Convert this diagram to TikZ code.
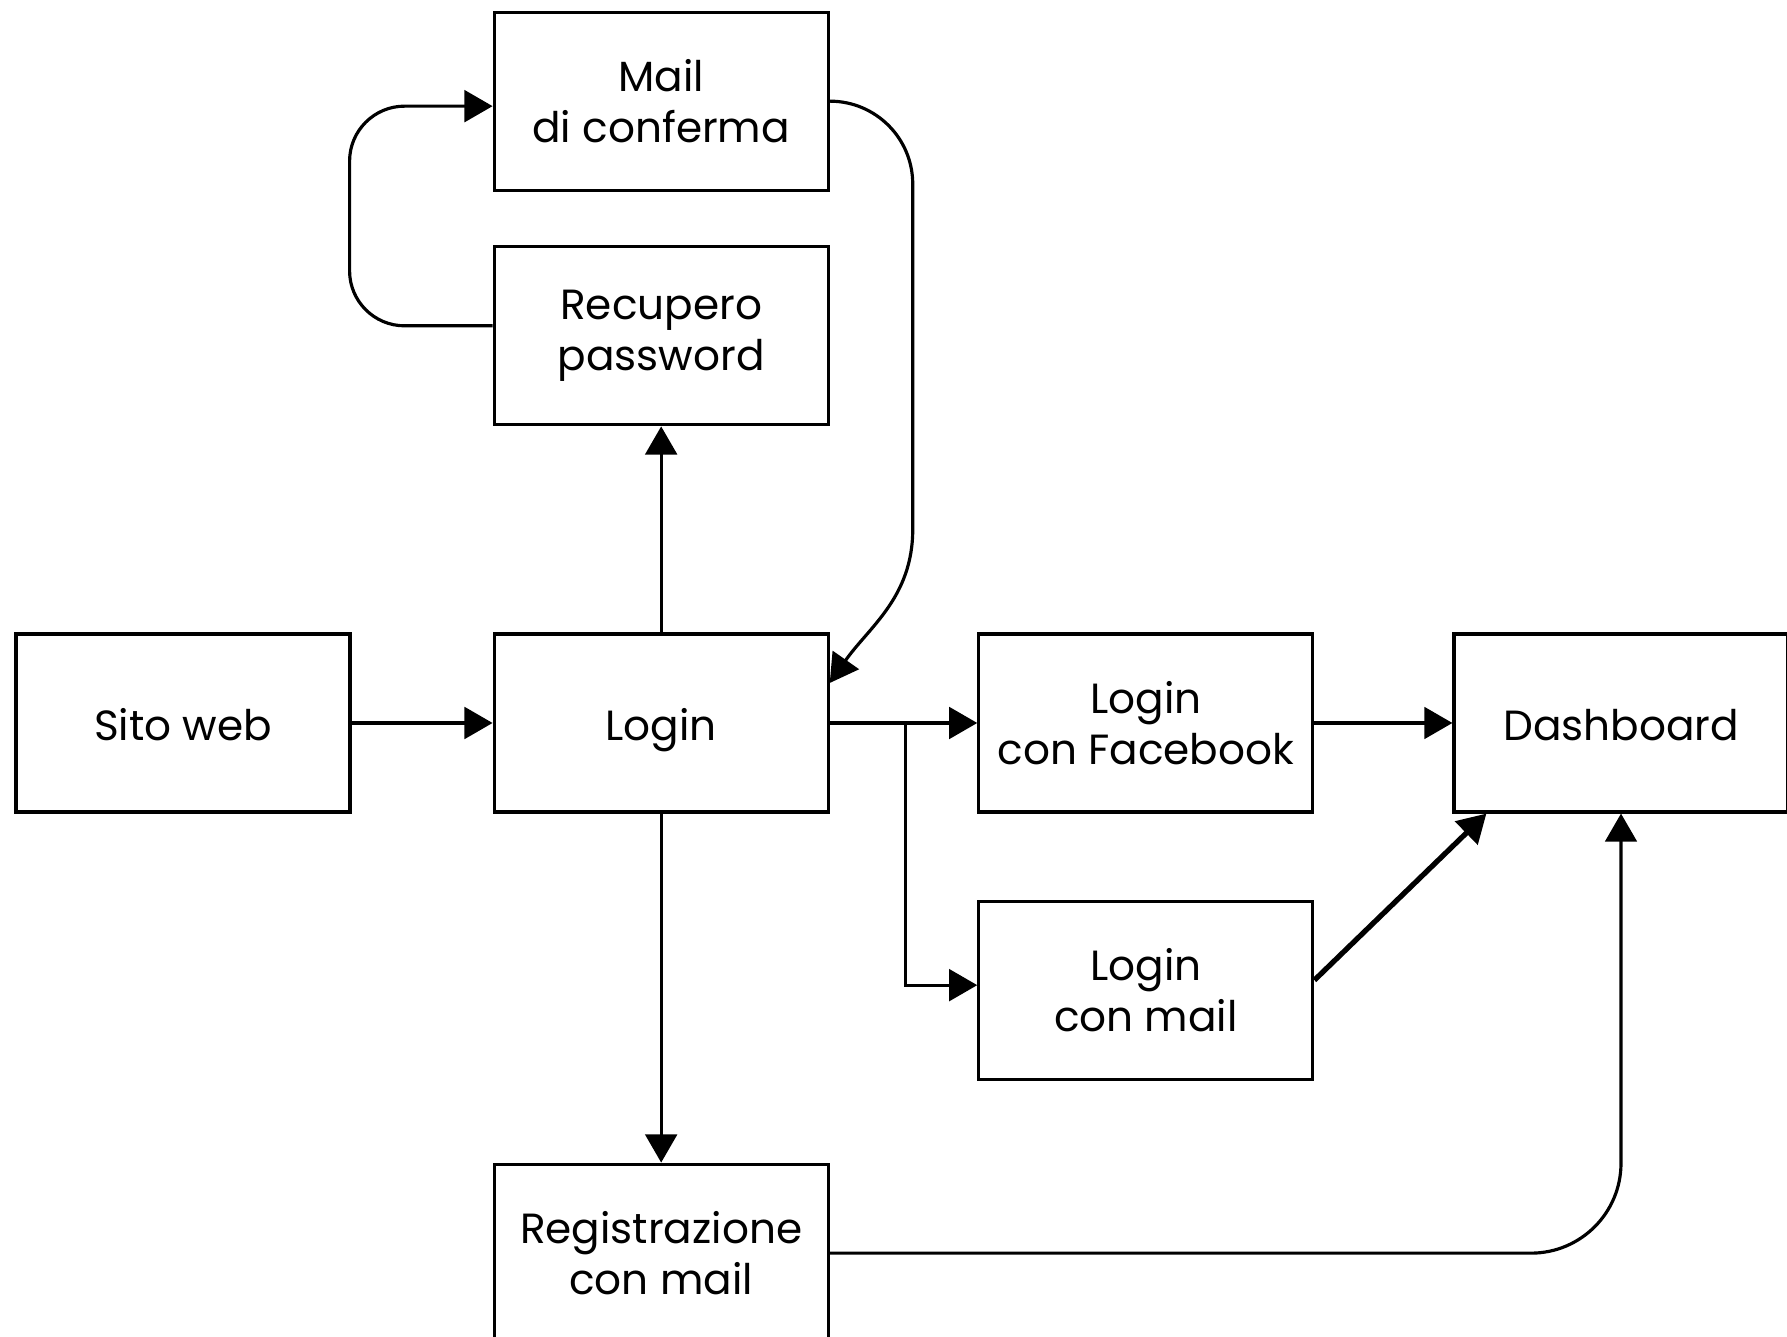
\documentclass[tikz,border=0pt]{standalone}
\usepackage{fontspec}
\setmainfont{Poppins}
\usetikzlibrary{positioning, arrows.meta, calc}

\begin{document}
\begin{tikzpicture}[
		main/.style = {draw, line width=0.9pt, minimum width=3.34cm, minimum height=1.78cm, inner sep=0pt, align=center, font=\fontsize{12}{14.5}\selectfont},
		single/.style = {text height=1.95ex, text depth=0.17ex},
		link/.style = {line width=0.9pt, -{Triangle[length=8pt, width=9pt]}}
	]
	\useasboundingbox (0,0) rectangle (17.87,13.37);
	\node[main, single] (sito) at (1.83,6.14) {Sito web};
	\node[main, single] (login) [right=1.41cm of sito] {Login};
	\node[main] (fb) [right=1.475cm of login] {Login\\con Facebook};
	\node[main, single] (dash) [right=1.38cm of fb] {Dashboard};
	\node[main] (lmail) [below=0.86cm of fb] {Login\\con mail};
	\node[main] (rec) [above=2.06cm of login] {Recupero\\password};
	\node[main] (mail) [above=0.535cm of rec] {Mail\\di conferma};
	\node[main] (reg) [below=3.49cm of login] {Registrazione\\con mail};
	\coordinate (split) at ($(login.east)+(0.76,0)$);
	\draw[link] (sito) -- (login);
	\draw[link] (login) -- (rec);
	\draw[link] (login) -- (reg);
	\draw[link, rounded corners=0.55cm] ([yshift=1mm]rec.west) -- ++(-1.43,0) |- ([yshift=-0.5mm]mail.west);
	\draw[link] (mail.east) to[out=0, in=90] ++(0.83,-0.83) -- ++(0,-3.45) to[out=-90, in=55] ([yshift=4mm]login.east);
	\draw[link] (login) -- (fb);
	\draw[link] (login.east) -- (split) |- ([yshift=0.5mm]lmail.west);
	\draw[link] (fb) -- (dash);
	\draw[link, line width=1.5pt] ([yshift=1mm]lmail.east) -- ([xshift=3.4mm]dash.south west);
	\draw[link, rounded corners=0.9cm] (reg.east) -| (dash.south);
\end{tikzpicture}
\end{document}
